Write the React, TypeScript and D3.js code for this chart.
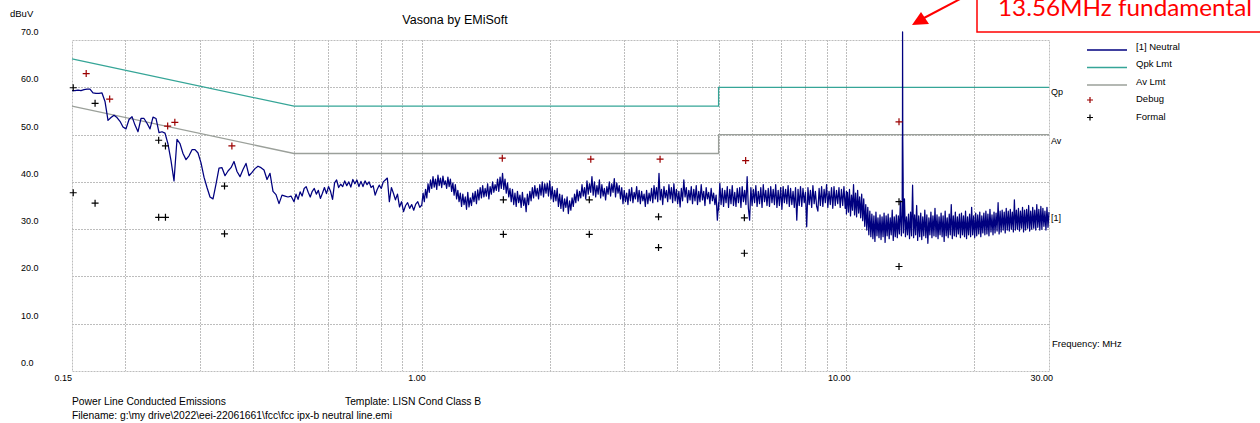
import React from "react";
import * as d3 from "d3";

const W = 1260;
const H = 423;
const PLOT = { left: 72, right: 1049, top: 40, bottom: 371 };

const FREQ_DOMAIN: [number, number] = [0.15, 30];
const LEVEL_DOMAIN: [number, number] = [0, 70];
const LEVEL_TICKS = [0, 10, 20, 30, 40, 50, 60, 70];
const LEVEL_LABELS = ["0.0", "10.0", "20.0", "30.0", "40.0", "50.0", "60.0", "70.0"];
const FREQ_LABEL_TICKS = [0.15, 1, 10, 30];
const FREQ_LABELS = ["0.15", "1.00", "10.00", "30.00"];
const FREQ_GRID = [0.2, 0.3, 0.4, 0.5, 0.6, 0.7, 0.8, 0.9, 1, 2, 3, 4, 5, 6, 7, 8, 9, 10, 20];

const QPK_FREQ = [0.15, 0.5, 5, 5, 30];
const QPK_DB = [66, 56, 56, 60, 60];
const AV_FREQ = [0.15, 0.5, 5, 5, 30];
const AV_DB = [56, 46, 46, 50, 50];

const DEBUG_FREQ = [0.162, 0.184, 0.252, 0.262, 0.357, 1.547, 2.5, 3.64, 5.79, 13.3];
const DEBUG_DB = [62.9, 57.5, 51.8, 52.6, 47.6, 45.0, 44.8, 44.8, 44.5, 52.7];
const FORMAL_FREQ = [0.151, 0.17, 0.24, 0.249, 0.343, 1.556, 2.48, 3.61, 5.75, 13.3];
const FORMAL_QP_DB = [59.9, 56.6, 48.8, 47.6, 39.1, 36.2, 36.2, 32.6, 32.4, 35.8];
const FORMAL_AV_DB = [37.7, 35.5, 32.5, 32.5, 29.0, 28.9, 28.9, 26.1, 24.9, 22.1];

// Neutral trace in log-swept segments
const SEG_A_RANGE: [number, number] = [0.15, 0.5];
const SEG_A_DB = [
  59.3, 59.3, 59.4, 59.3, 59.5, 59.6, 59.6, 58.8, 58.7, 58.7,
  58.8, 57.0, 53.0, 53.6, 54.1, 53.6, 52.8, 51.6, 51.2, 53.2,
  53.8, 52.0, 50.6, 53.4, 53.4, 52.4, 51.2, 53.7, 53.4, 50.4,
  50.6, 50.3, 48.0, 44.5, 40.2, 49.0, 48.1, 46.0, 44.7, 45.5,
  46.8, 46.8, 46.1, 44.0, 41.0, 38.8, 36.8, 36.4, 39.5, 42.9,
  43.0, 41.3, 42.3, 43.0, 44.3, 42.2, 41.1, 42.6, 43.9, 41.3,
  42.0, 42.8, 43.3, 43.0, 42.5, 40.5, 41.8, 38.0, 37.3, 35.4,
  37.2, 37.0, 36.8, 37.0, 35.8,
];
const SEG_B1_RANGE: [number, number] = [0.5, 1.0];
const SEG_B1_DB = [
  35.8, 37.4, 36.3, 37.9, 37.0, 38.6, 39.0, 37.8, 36.8, 38.0,
  38.6, 37.4, 38.2, 36.5, 37.6, 38.8, 37.5, 39.0, 38.0, 36.3,
  39.8, 40.4, 38.8, 39.5, 39.0, 40.2, 39.2, 40.0, 38.9, 40.5,
  39.6, 40.4, 39.0, 40.1, 39.0, 40.2, 39.4, 40.0, 38.8, 39.2,
  37.2, 38.4, 39.3, 38.6, 40.0, 40.4, 40.8, 35.8, 38.8, 37.6,
  36.2, 37.4, 34.7, 35.8, 33.7, 35.0, 35.6, 34.4, 35.2, 34.0,
  35.3, 35.8, 34.6, 35.1,
];
const SEG_B2_RANGE: [number, number] = [1.0, 5.0];
const SEG_B2_DB = [
  35.2, 37.6, 35.8, 38.4, 36.6, 39.6, 37.8, 40.4,
  38.6, 41.1, 38.9, 40.6, 38.4, 41.4, 39.2, 40.8,
  38.8, 41.2, 39.4, 40.2, 38.6, 41.0, 39.0, 40.6,
  38.0, 39.8, 37.2, 39.4, 36.4, 38.2, 35.8, 37.6,
  34.8, 37.4, 35.2, 36.8, 34.2, 37.8, 34.7, 36.6,
  35.0, 37.6, 35.8, 38.0, 35.4, 38.3, 36.2, 38.8,
  36.6, 39.2, 36.8, 38.6, 37.0, 39.6, 36.4, 39.0,
  37.4, 40.0, 37.8, 39.4, 38.2, 40.6, 38.0, 41.0,
  38.6, 41.8, 38.4, 40.6, 37.6, 39.8, 36.8, 38.6,
  35.8, 38.4, 35.2, 37.6, 34.8, 38.0, 35.6, 37.2,
  34.6, 37.8, 35.0, 36.6, 33.7, 37.4, 35.2, 38.0,
  36.0, 38.8, 36.6, 39.2, 37.0, 38.6, 36.4, 39.4,
  37.2, 40.0, 36.8, 39.6, 37.6, 39.7, 37.0, 40.2,
  36.4, 39.0, 35.8, 38.2, 36.0, 38.6, 34.8, 37.4,
  34.4, 37.2, 33.8, 36.4, 34.6, 36.8, 33.3, 36.0,
  34.0, 36.6, 34.8, 37.4, 35.6, 38.3, 36.0, 38.0,
  36.6, 39.4, 37.0, 38.8, 36.4, 40.2, 37.4, 39.6,
  37.8, 41.1, 37.2, 40.0, 36.8, 39.2, 37.4, 40.4,
  36.6, 39.4, 37.0, 38.6, 36.2, 39.0, 37.4, 40.0,
  37.0, 39.6, 37.8, 40.7, 36.8, 39.8, 37.6, 39.2,
  36.4, 38.8, 35.4, 38.2, 35.8, 37.6, 35.2, 38.4,
  36.0, 38.8, 35.6, 37.8, 36.4, 39.0, 35.8, 38.2,
  35.4, 38.0, 36.0, 37.4, 34.8, 38.2, 35.4, 37.6,
  36.0, 38.6, 35.6, 39.2, 36.4, 38.8, 35.8, 41.8,
  36.2, 38.4, 35.2, 39.0, 36.6, 38.2, 35.8, 39.4,
  36.4, 38.8, 35.6, 39.6, 36.0, 38.4, 35.4, 38.0,
  34.7, 38.6, 36.0, 40.4, 36.8, 38.8, 35.6, 38.2,
  36.2, 39.0, 35.4, 38.4, 36.0, 39.2, 35.2, 38.0,
  35.8, 39.4, 36.2, 38.0, 35.0, 38.8, 36.4, 37.8,
  35.4, 38.6, 36.0, 37.6, 35.2, 37.2, 31.9, 35.6,
];
const SEG_C_RANGE: [number, number] = [5, 10];
const SEG_C_DB = [
  34.0, 39.7, 35.2, 38.6, 34.8, 38.2, 35.6, 39.0,
  34.6, 38.4, 35.4, 39.2, 35.0, 37.8, 34.8, 38.6,
  35.6, 38.8, 34.6, 39.0, 35.8, 38.2, 35.2, 41.1,
  34.4, 31.9, 38.8, 35.0, 38.4, 35.6, 39.2, 34.8,
  38.0, 35.4, 38.8, 34.6, 39.4, 35.8, 38.2, 35.0,
  38.6, 34.8, 39.0, 35.6, 38.4, 35.2, 39.4, 34.6,
  38.2, 35.0, 38.8, 34.2, 39.0, 35.6, 38.4, 35.4,
  39.2, 34.8, 38.6, 35.2, 38.0, 34.6, 38.8, 31.9,
  38.4, 35.0, 39.0, 34.8, 38.6, 35.6, 37.8, 30.5,
  38.8, 35.2, 38.2, 34.6, 39.2, 35.4, 38.0, 34.8,
  33.8, 38.6, 35.0, 39.0, 34.8, 38.4, 35.6, 39.4,
  34.6, 38.0, 35.2, 38.8, 34.4, 39.0, 35.0, 38.2,
  35.4, 38.8, 34.6, 38.4, 35.0, 39.0, 34.4, 38.0,
];
const SEG_D_RANGE: [number, number] = [10, 30];
const SEG_D_DB = [
  33.2, 37.8, 33.6, 38.4, 32.8, 37.2, 34.0, 39.4,
  33.0, 37.6, 32.6, 38.2, 33.4, 36.8, 32.4, 37.4,
  31.8, 36.4, 30.6, 35.2, 29.8, 34.6, 28.8, 33.8,
  28.4, 33.2, 28.0, 32.8, 27.4, 33.6, 28.6, 32.4,
  28.2, 33.0, 27.8, 32.6, 28.4, 33.4, 27.2, 32.8,
  28.6, 33.2, 28.0, 32.4, 28.8, 34.0, 27.6, 32.6,
  28.4, 33.0, 28.2, 32.8, 29.0, 36.0, 28.6, 33.4,
  29.2, 36.4, 28.4, 32.6, 28.8, 33.2, 28.0, 33.6,
  28.6, 39.3, 28.2, 33.0, 28.8, 35.0, 27.6, 32.8,
  28.4, 33.4, 27.8, 32.6, 28.6, 34.0, 28.2, 33.0,
  27.0, 32.4, 28.8, 33.6, 28.2, 32.8, 28.6, 34.4,
  28.4, 33.0, 28.0, 32.6, 28.8, 33.4, 28.4, 32.8,
  27.4, 33.8, 28.6, 32.4, 28.2, 33.2, 28.8, 35.2,
  28.0, 32.8, 28.6, 33.6, 28.4, 32.6, 29.0, 33.2,
  28.2, 33.4, 28.8, 32.8, 28.4, 33.8, 28.0, 32.6,
  28.8, 33.2, 28.4, 34.6, 28.8, 32.8, 28.2, 33.4,
  28.6, 33.0, 29.0, 33.6, 28.4, 32.8, 29.2, 33.4,
  28.8, 33.8, 29.0, 33.2, 28.6, 34.2, 29.4, 33.0,
  28.8, 33.6, 29.2, 33.4, 29.6, 35.6, 29.0, 33.8,
  29.4, 34.0, 29.8, 33.6, 29.2, 34.4, 29.8, 33.8,
  29.6, 34.2, 30.0, 33.6, 29.4, 36.2, 29.8, 34.0,
  30.0, 34.4, 29.6, 33.8, 30.2, 34.6, 29.4, 34.0,
  29.8, 34.2, 30.2, 35.0, 29.6, 33.8, 30.0, 34.6,
  30.2, 34.0, 29.8, 35.2, 30.4, 34.2, 29.8, 34.8,
  30.0, 34.4, 30.6, 33.8, 29.8, 34.6, 30.4, 33.6,
];
const SPIKE_FREQ = [13.53, 13.545, 13.56, 13.575, 13.6, 13.62];
const SPIKE_DB = [33.0, 49.5, 71.7, 49.0, 41.0, 31.0];

const LEGEND_NAMES = ["[1] Neutral", "Qpk Lmt", "Av Lmt", "Debug", "Formal"];

const C_TRACE = "#00007f";
const C_QPK = "#35a597";
const C_AV = "#9ba09a";
const C_DEBUG = "#9b0000";
const C_FORMAL = "#000000";
const C_GRID = "#bdbdbd";
const FONT = "'Liberation Sans', Arial, sans-serif";

type Pt = { f: number; v: number };

function sweep(range: [number, number], values: number[]): Pt[] {
  const n = values.length;
  return values.map((v, i) => ({ f: range[0] * Math.pow(range[1] / range[0], i / (n - 1)), v }));
}

function plus(cx: number, cy: number, r = 3.5) {
  return `M${cx - r},${cy}H${cx + r}M${cx},${cy - r}V${cy + r}`;
}

export default function App() {
  const x = d3.scaleLog().domain(FREQ_DOMAIN).range([PLOT.left, PLOT.right]);
  const y = d3.scaleLinear().domain(LEVEL_DOMAIN).range([PLOT.bottom, PLOT.top]);

  const trace: Pt[] = [
    ...sweep(SEG_A_RANGE, SEG_A_DB),
    ...sweep(SEG_B1_RANGE, SEG_B1_DB),
    ...sweep(SEG_B2_RANGE, SEG_B2_DB),
    ...sweep(SEG_C_RANGE, SEG_C_DB),
    ...sweep(SEG_D_RANGE, SEG_D_DB),
    ...SPIKE_FREQ.map((f, i) => ({ f, v: SPIKE_DB[i] })),
  ].sort((a, b) => a.f - b.f);

  const line = d3
    .line<Pt>()
    .x((d) => x(d.f))
    .y((d) => y(d.v));

  const qpk = QPK_FREQ.map((f, i) => ({ f, v: QPK_DB[i] }));
  const av = AV_FREQ.map((f, i) => ({ f, v: AV_DB[i] }));

  const legendY = [46, 63.5, 81, 98.5, 116];

  return (
    <svg
      width={W}
      height={H}
      viewBox={`0 0 ${W} ${H}`}
      style={{ position: "absolute", left: 0, top: 0, background: "#fff" }}
      fontFamily={FONT}
    >
      <rect x={0} y={0} width={W} height={H} fill="#fff" />
      {/* grid */}
      <g stroke={C_GRID} strokeWidth={1} strokeDasharray="2,1" fill="none">
        {FREQ_GRID.map((f) => (
          <line key={"v" + f} x1={Math.round(x(f)) + 0.5} x2={Math.round(x(f)) + 0.5} y1={PLOT.top} y2={PLOT.bottom} />
        ))}
        {LEVEL_TICKS.slice(1, -1).map((t) => (
          <line key={"h" + t} x1={PLOT.left} x2={PLOT.right} y1={Math.round(y(t)) + 0.5} y2={Math.round(y(t)) + 0.5} />
        ))}
        <rect x={PLOT.left + 0.5} y={PLOT.top + 0.5} width={PLOT.right - PLOT.left} height={PLOT.bottom - PLOT.top} />
      </g>

      {/* y labels */}
      <text x={10} y={17} fontSize={9.5} fill="#000">dBuV</text>
      {LEVEL_TICKS.map((t, i) => (
        <text key={"yl" + t} x={21} y={y(t) - 5} fontSize={9} fill="#000">
          {LEVEL_LABELS[i]}
        </text>
      ))}
      {/* x labels */}
      {FREQ_LABEL_TICKS.map((f, i) => (
        <text key={"xl" + f} x={x(f) + (i === 0 ? 0 : 4)} y={381} fontSize={9} textAnchor="end" fill="#000">
          {FREQ_LABELS[i]}
        </text>
      ))}

      {/* limits */}
      <path d={line(qpk) || ""} fill="none" stroke={C_QPK} strokeWidth={1.3} />
      <path d={line(av) || ""} fill="none" stroke={C_AV} strokeWidth={1.3} />

      {/* trace */}
      <path d={line(trace) || ""} fill="none" stroke={C_TRACE} strokeWidth={1.25} strokeLinejoin="round" />

      {/* markers */}
      <g stroke={C_DEBUG} strokeWidth={1.2} fill="none">
        {DEBUG_FREQ.map((f, i) => (
          <path key={"d" + i} d={plus(x(f), y(DEBUG_DB[i]))} />
        ))}
      </g>
      <g stroke={C_FORMAL} strokeWidth={1.2} fill="none">
        {FORMAL_FREQ.map((f, i) => (
          <path key={"fq" + i} d={plus(x(f), y(FORMAL_QP_DB[i]))} />
        ))}
        {FORMAL_FREQ.map((f, i) => (
          <path key={"fa" + i} d={plus(x(f), y(FORMAL_AV_DB[i]))} />
        ))}
      </g>

      {/* right-side labels */}
      <text x={1051} y={y(60) + 8} fontSize={9} fill="#000">Qp</text>
      <text x={1051} y={y(50) + 9} fontSize={9} fill="#000">Av</text>
      <text x={1051} y={221} fontSize={9} fill="#000">[1]</text>
      <text x={1052} y={347} fontSize={9.5} fill="#000">Frequency: MHz</text>

      {/* title */}
      <text x={455} y={24} fontSize={12.5} textAnchor="middle" fill="#000">Vasona by EMiSoft</text>

      {/* legend */}
      {LEGEND_NAMES.map((name, i) => (
        <g key={name}>
          {i < 3 ? (
            <line x1={1087} x2={1127} y1={legendY[i] + 4} y2={legendY[i] + 4} stroke={[C_TRACE, C_QPK, C_AV][i]} strokeWidth={1.3} />
          ) : (
            <path d={plus(1090, legendY[i] + 1.5, 3)} stroke={i === 3 ? C_DEBUG : C_FORMAL} strokeWidth={1.2} />
          )}
          <text x={1136} y={legendY[i] + 3.5} fontSize={9.5} fill="#000">{name}</text>
        </g>
      ))}

      {/* footer */}
      <text x={72} y={405} fontSize={10.3} fill="#000">Power Line Conducted Emissions</text>
      <text x={345} y={405} fontSize={10.3} fill="#000">Template: LISN Cond Class B</text>
      <text x={72} y={418.5} fontSize={10.3} fill="#000">
        {"Filename: g:\\my drive\\2022\\eei-22061661\\fcc\\fcc ipx-b neutral line.emi"}
      </text>

      {/* annotation */}
      <rect x={977} y={-10} width={300} height={42} fill="none" stroke="#ff0000" strokeWidth={1.5} />
      <text x={998} y={15.5} fontSize={23} fill="#ff0000" fontFamily="Lato, 'Open Sans', sans-serif" textLength={254} lengthAdjust="spacingAndGlyphs">
        13.56MHz fundamental
      </text>
      <line x1={962} y1={-2} x2={924} y2={18} stroke="#ff0000" strokeWidth={2} />
      <path d="M912,25 L921,12 L929,24 Z" fill="#ff0000" />
    </svg>
  );
}
